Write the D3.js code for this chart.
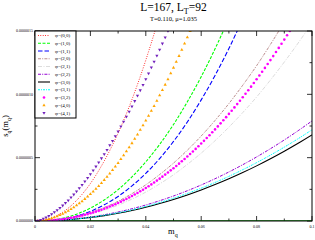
<!DOCTYPE html>
<meta charset="utf-8">
<style>
body { margin: 0; background: #fff; }
text { font-family: "Liberation Serif", "Times New Roman", serif; fill: #000; }
.frame { fill: none; stroke: #000; stroke-width: 1px; }
.tick line { stroke: #000; stroke-width: 0.8px; }
</style>
<body>
<svg width="315" height="240"></svg>
<script src="https://cdn.jsdelivr.net/npm/d3@7"></script>
<script>
// grids of m_q
var mqCoarse = [0,0.005,0.01,0.015,0.02,0.025,0.03,0.035,0.04,0.045,0.05,0.055,0.06,0.065,0.07,0.075,0.08,0.085,0.09,0.095,0.1];
var mqFine = [0,0.001,0.002,0.003,0.004,0.005,0.006,0.007,0.008,0.009,0.01,0.011,0.012,0.013,0.014,0.015,0.016,0.017,0.018,0.019,
  0.02,0.021,0.022,0.023,0.024,0.025,0.026,0.027,0.028,0.029,0.03,0.031,0.032,0.033,0.034,0.035,0.036,0.037,0.038,0.039,
  0.04,0.041,0.042,0.043,0.044,0.045,0.046,0.047,0.048,0.049,0.05,0.051,0.052,0.053,0.054,0.055,0.056,0.057,0.058,0.059,
  0.06,0.061,0.062,0.063,0.064,0.065,0.066,0.067,0.068,0.069,0.07,0.071,0.072,0.073,0.074,0.075,0.076,0.077,0.078,0.079,
  0.08,0.081,0.082,0.083,0.084,0.085,0.086,0.087,0.088,0.089,0.09,0.091,0.092,0.093];

// s_q values (units of 1e-6), lines on coarse grid
var phi00 = [0,0.016,0.069,0.162,0.296,0.474,0.694,0.959,1.270,1.626,2.03];
var phi10 = [0,0.005,0.022,0.054,0.102,0.166,0.248,0.348,0.467,0.605,0.762,0.941,1.139,1.359,1.599];
var phi11 = [0,0.003,0.015,0.039,0.076,0.128,0.194,0.277,0.376,0.493,0.628,0.782,0.956,1.149,1.362,1.596];
var phi20 = [0,0.004,0.016,0.036,0.067,0.107,0.156,0.216,0.286,0.367,0.457,0.559,0.671,0.794,0.927,1.072,1.226,1.394,1.571];
var phi21 = [0,0.003,0.012,0.029,0.053,0.085,0.125,0.173,0.228,0.293,0.365,0.447,0.536,0.634,0.741,0.856,0.979,1.113,1.255,1.405,1.564];
var phi22 = [0,0.002,0.0079,0.0178,0.0316,0.0494,0.0711,0.0968,0.1264,0.16,0.1975,0.239,0.2844,0.3338,0.3871,0.4444,0.5056,0.5708,0.6399,0.713,0.79];
var phi30 = [0,0.0017,0.0068,0.0153,0.0272,0.0425,0.0612,0.0833,0.1088,0.1377,0.17,0.2057,0.2448,0.2873,0.3332,0.3825,0.4352,0.4913,0.5508,0.6137,0.68];
var phi31 = [0,0.0018,0.0072,0.0162,0.0288,0.045,0.0648,0.0882,0.1152,0.1458,0.18,0.2178,0.2592,0.3042,0.3528,0.405,0.4608,0.5202,0.5832,0.6498,0.72];
// symbols on fine grid
var phi32 = [0,0.0001,0.0005,0.0011,0.0021,0.0033,0.0049,0.0067,0.0089,0.0114,0.0142,0.0173,0.0208,0.0246,0.0288,0.0333,0.0381,0.0432,0.0488,0.0546,
  0.0609,0.0674,0.0743,0.0816,0.0892,0.0973,0.1056,0.1143,0.1233,0.1328,0.1426,0.1528,0.1633,0.1742,0.1855,0.1971,0.2092,0.2216,0.2343,0.2473,
  0.2609,0.2748,0.2890,0.3038,0.3188,0.3343,0.3500,0.3662,0.3827,0.3997,0.4170,0.4347,0.4528,0.4714,0.4900,0.5093,0.5290,0.5488,0.5694,0.5900,
  0.6114,0.6328,0.6550,0.6772,0.7002,0.7233,0.7467,0.7710,0.7952,0.8198,0.8454,0.8709,0.8968,0.9230,0.9497,0.9769,1.0044,1.0323,1.0607,1.0895,
  1.1187,1.1482,1.1783,1.2088,1.2389,1.2702,1.3019,1.3341,1.3667,1.3988,1.4323,1.4661,1.5,1.5342];
var phi40 = [0,0.001,0.003,0.006,0.010,0.015,0.022,0.029,0.037,0.047,0.057,0.068,0.080,0.094,0.108,0.123,0.139,0.156,0.174,0.192,
  0.212,0.233,0.254,0.276,0.300,0.324,0.349,0.375,0.402,0.430,0.458,0.488,0.519,0.550,0.581,0.614,0.649,0.683,0.719,0.755,
  0.792,0.831,0.870,0.908,0.949,0.992,1.034,1.076,1.119,1.165,1.210,1.257,1.303,1.351,1.401,1.450,1.500,1.552];
var phi41 = [0,0.003,0.009,0.018,0.028,0.040,0.054,0.069,0.085,0.103,0.122,0.142,0.163,0.186,0.209,0.233,0.259,0.285,0.312,0.340,
  0.370,0.399,0.430,0.462,0.495,0.528,0.562,0.598,0.633,0.670,0.707,0.746,0.784,0.823,0.864,0.904,0.947,0.989,1.032,1.075,
  1.120,1.166,1.212,1.258,1.305,1.353,1.401,1.450,1.500,1.550];
var zeroLine = [0,0];
var zeroX = [0,0.1];

var xTicks = [0,0.02,0.04,0.06,0.08,0.1];
var xTickLabels = ["0","0.02","0.04","0.06","0.08","0.1"];
var yTicks = [0,0.5,1,1.5];
var yTickLabels = ["0.0000000","0.0000005","0.0000010","0.0000015"];

var series = [
  {name:"\u03c6=(0,0)", x:mqCoarse, y:phi00, color:"#ff0000", dash:"0.8,1.6", w:1},
  {name:"\u03c6=(1,0)", x:mqCoarse, y:phi10, color:"#00ff00", dash:"3,1.5", w:1.1},
  {name:"\u03c6=(1,1)", x:mqCoarse, y:phi11, color:"#0000ff", dash:"4.5,2", w:1.1},
  {name:"\u03c6=(2,0)", x:mqCoarse, y:phi20, color:"#bc8f8f", dash:"3,1.2,1,1.2", w:1},
  {name:"\u03c6=(2,1)", x:mqCoarse, y:phi21, color:"#dcdcdc", dash:"4,1.5,1,1.5", w:1},
  {name:"\u03c6=(2,2)", x:mqCoarse, y:phi22, color:"#9400d3", dash:"3,1.2,1,1.2", w:1},
  {name:"\u03c6=(3,0)", x:mqCoarse, y:phi30, color:"#000000", dash:null, w:1.1},
  {name:"\u03c6=(3,1)", x:mqCoarse, y:phi31, color:"#00ffff", dash:"2,1,1,1", w:1},
  {name:"\u03c6=(3,2)", x:mqFine, y:phi32, color:"#ff00ff", sym:"circle"},
  {name:"\u03c6=(4,0)", x:mqFine, y:phi40, color:"#ffa500", sym:"up"},
  {name:"\u03c6=(4,1)", x:mqFine, y:phi41, color:"#7221bc", sym:"down"}
];

var svg = d3.select("svg");
var margin = {left:35, right:3, top:31, bottom:19};
var width = 315 - margin.left - margin.right,
    height = 240 - margin.top - margin.bottom;

var x = d3.scaleLinear().domain([0, 0.1]).range([margin.left, margin.left + width]);
var y = d3.scaleLinear().domain([0, 1.5]).range([margin.top + height, margin.top]);

svg.append("clipPath").attr("id", "clip")
  .append("rect").attr("x", margin.left).attr("y", margin.top).attr("width", width).attr("height", height);

// title
svg.append("text").attr("x", margin.left + width / 2).attr("y", 11)
  .attr("text-anchor", "middle").style("font-size", "11.5px")
  .html('L=167, L<tspan dy="2.5" font-size="8px">T</tspan><tspan dy="-2.5">=92</tspan>');
svg.append("text").attr("x", margin.left + width / 2).attr("y", 21)
  .attr("text-anchor", "middle").style("font-size", "6.5px")
  .text("T=0.110, \u03bc=1.035");

// axes with inward ticks on all sides
var xMinor = d3.range(0, 0.1001, 0.01);
var yMinor = d3.range(0, 1.5001, 0.25);
function ticksX(ypos, dir) {
  svg.append("g").attr("class", "tick").selectAll("line").data(xMinor).enter().append("line")
    .attr("x1", function(d) { return x(d); }).attr("x2", function(d) { return x(d); })
    .attr("y1", ypos).attr("y2", function(d, i) { return ypos + dir * (i % 2 ? 2.5 : 5); });
}
function ticksY(xpos, dir) {
  svg.append("g").attr("class", "tick").selectAll("line").data(yMinor).enter().append("line")
    .attr("y1", function(d) { return y(d); }).attr("y2", function(d) { return y(d); })
    .attr("x1", xpos).attr("x2", function(d, i) { return xpos + dir * (i % 2 ? 2.5 : 5); });
}
ticksX(margin.top + height, -1);
ticksX(margin.top, 1);
ticksY(margin.left, 1);
ticksY(margin.left + width, -1);

svg.append("g").selectAll("text").data(xTicks).enter().append("text")
  .attr("x", function(d) { return x(d); }).attr("y", margin.top + height + 7)
  .attr("text-anchor", "middle").style("font-size", "4px")
  .text(function(d, i) { return xTickLabels[i]; });
svg.append("g").selectAll("text").data(yTicks).enter().append("text")
  .attr("x", margin.left - 2).attr("y", function(d) { return y(d) + 1.3; })
  .attr("text-anchor", "end").style("font-size", "4px")
  .text(function(d, i) { return yTickLabels[i]; });

// axis labels
svg.append("text").attr("x", 168).attr("y", 234).style("font-size", "8.5px")
  .html('m<tspan dy="2.5" font-size="6px">q</tspan>');
svg.append("text").attr("transform", "translate(8," + (margin.top + height / 2) + ") rotate(-90)")
  .attr("text-anchor", "middle").style("font-size", "8.5px")
  .html('s<tspan dy="2.5" font-size="6px">q</tspan><tspan dy="-2.5">(m</tspan><tspan dy="2.5" font-size="6px">q</tspan><tspan dy="-2.5">)</tspan>');

var plot = svg.append("g").attr("clip-path", "url(#clip)");

var line = d3.line()
  .x(function(d) { return x(d[0]); })
  .y(function(d) { return y(d[1]); })
  .curve(d3.curveMonotoneX);

// zero line
plot.append("path").datum(d3.zip(zeroX, zeroLine)).attr("d", line)
  .attr("fill", "none").attr("stroke", "#008b00").attr("stroke-width", 1.6);

var symUp = d3.symbol().type(d3.symbolTriangle).size(4.5);
series.forEach(function(s) {
  var pts = s.y.map(function(v, i) { return [s.x[i], v]; });
  if (!s.sym) {
    plot.append("path").datum(pts).attr("d", line)
      .attr("fill", "none").attr("stroke", s.color).attr("stroke-width", s.w)
      .attr("stroke-dasharray", s.dash);
  } else if (s.sym === "circle") {
    plot.append("g").selectAll("circle").data(pts).enter().append("circle")
      .attr("cx", function(d) { return x(d[0]); }).attr("cy", function(d) { return y(d[1]); })
      .attr("r", 1.3).attr("fill", s.color);
  } else {
    plot.append("g").selectAll("path").data(pts).enter().append("path")
      .attr("d", symUp)
      .attr("transform", function(d) {
        return "translate(" + x(d[0]) + "," + y(d[1]) + ")" + (s.sym === "down" ? " rotate(180)" : "");
      })
      .attr("fill", s.color);
  }
});

// frame
svg.append("rect").attr("class", "frame")
  .attr("x", margin.left).attr("y", margin.top).attr("width", width).attr("height", height);

// legend
var lg = svg.append("g");
lg.append("rect").attr("x", margin.left).attr("y", margin.top).attr("width", 41).attr("height", 87)
  .attr("fill", "#fff").attr("stroke", "#000").attr("stroke-width", 1);
series.forEach(function(s, i) {
  var ly = margin.top + 4.5 + i * 7.75;
  if (!s.sym) {
    lg.append("line").attr("x1", 38).attr("x2", 50).attr("y1", ly).attr("y2", ly)
      .attr("stroke", s.color).attr("stroke-width", s.w).attr("stroke-dasharray", s.dash);
  } else if (s.sym === "circle") {
    lg.append("circle").attr("cx", 44).attr("cy", ly).attr("r", 1.3).attr("fill", s.color);
  } else {
    lg.append("path").attr("d", symUp)
      .attr("transform", "translate(44," + ly + ")" + (s.sym === "down" ? " rotate(180)" : ""))
      .attr("fill", s.color);
  }
  lg.append("text").attr("x", 55).attr("y", ly + 1.7).style("font-size", "5px").text(s.name);
});
</script>
</body>
